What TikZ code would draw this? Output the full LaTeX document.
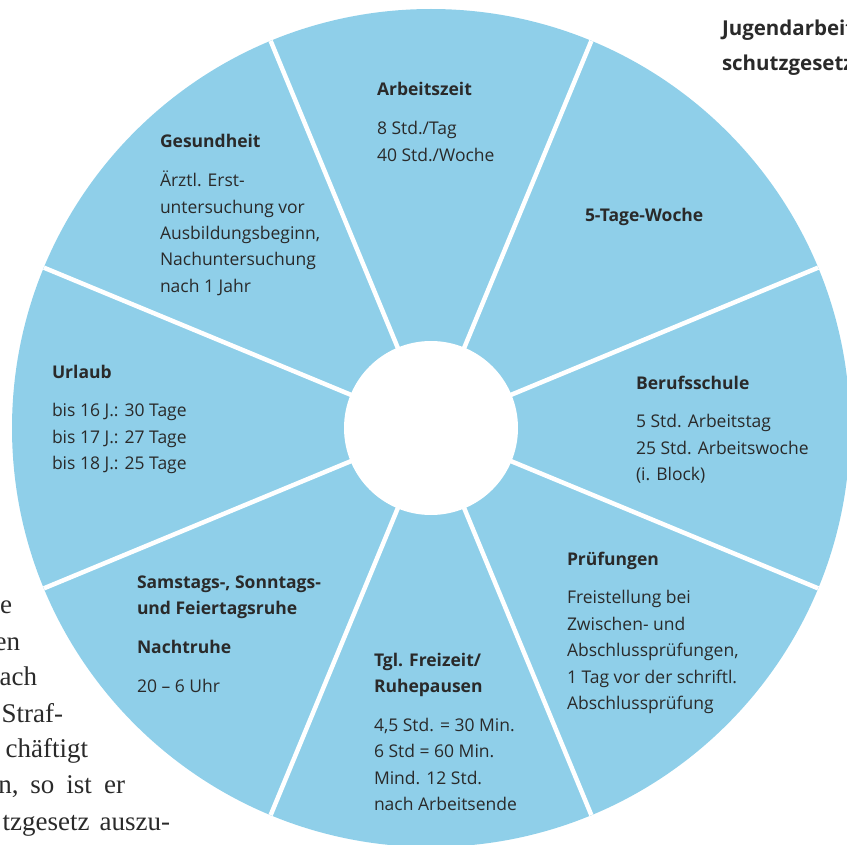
\documentclass[tikz,border=0pt]{standalone}
\usepackage{fontspec}
\setmainfont{Open Sans}
\newfontfamily\serifbody{Liberation Serif}
\definecolor{wheelblue}{HTML}{8FCFE9}
\definecolor{ink}{HTML}{2A2A2A}
\newcommand{\secthead}[1]{\hbox{\bfseries #1}}
\newcommand{\sectline}[1]{\hbox{#1}}
\newcommand{\sectgap}{\vskip 12.4pt}
\begin{document}
\begin{tikzpicture}[x=1pt,y=-1pt,
  lbl/.style={anchor=base west, inner sep=0pt, outer sep=0pt, text=ink, font=\fontsize{17.5}{26.4}\selectfont},
  titlelbl/.style={anchor=base west, inner sep=0pt, outer sep=0pt, text=ink, font=\fontsize{20.5}{35}\selectfont\bfseries},
  spoke/.style={draw=white, line width=4.5pt},
  side/.style={anchor=base east, inner sep=0pt, outer sep=0pt, text=ink, font=\serifbody\fontsize{27}{36}\selectfont}]
\useasboundingbox (0,0) rectangle (847,845);
\clip (0,0) rectangle (847,845);
\coordinate (c) at (431,428);
\fill[wheelblue] (c) circle[radius=419];
\foreach \a in {22.5,67.5,...,337.5}
  \draw[spoke] (c) -- ++(\a:419);
\fill[white] (c) circle[radius=87];

\node[lbl] (gesund) at (160,148) {\vtop{\baselineskip=26.4pt
  \secthead{Gesundheit}\sectgap
  \sectline{Ärztl. Erst-}\sectline{untersuchung vor}\sectline{Ausbildungsbeginn,}\sectline{Nachuntersuchung}\sectline{nach 1 Jahr}}};
\node[lbl] (arbeit) at (377,96) {\vtop{\baselineskip=26.4pt
  \secthead{Arbeitszeit}\sectgap
  \sectline{8 Std./Tag}\sectline{40 Std./Woche}}};
\node[lbl] (tage) at (585,222) {\vtop{\baselineskip=26.4pt
  \secthead{5-Tage-Woche}}};
\node[lbl] (beruf) at (636,389) {\vtop{\baselineskip=26.4pt
  \secthead{Berufsschule}\sectgap
  \sectline{5 Std. Arbeitstag}\sectline{25 Std. Arbeitswoche}\sectline{(i. Block)}}};
\node[lbl] (pruef) at (567,565) {\vtop{\baselineskip=26.4pt
  \secthead{Prüfungen}\sectgap
  \sectline{Freistellung bei}\sectline{Zwischen- und}\sectline{Abschlussprüfungen,}\sectline{1 Tag vor der schriftl.}\sectline{Abschlussprüfung}}};
\node[lbl] (frei) at (374,666) {\vtop{\baselineskip=26.4pt
  \secthead{Tgl. Freizeit/}\secthead{Ruhepausen}\sectgap
  \sectline{4,5 Std. = 30 Min.}\sectline{6 Std = 60 Min.}\sectline{Mind. 12 Std.}\sectline{nach Arbeitsende}}};
\node[lbl] (samst) at (137,588) {\vtop{\baselineskip=26.4pt
  \secthead{Samstags-, Sonntags-}\secthead{und Feiertagsruhe}\sectgap
  \secthead{Nachtruhe}\sectgap
  \sectline{20 – 6 Uhr}}};
\node[lbl] (urlaub) at (52,378) {\vtop{\baselineskip=26.4pt
  \secthead{Urlaub}\sectgap
  \sectline{bis 16 J.: 30 Tage}\sectline{bis 17 J.: 27 Tage}\sectline{bis 18 J.: 25 Tage}}};

\node[titlelbl] (jugend) at (722,36) {\vtop{\baselineskip=35pt
  \hbox{Jugendarbeit}\hbox{schutzgesetz}}};

\node[side] (s1) at (12,613) {e};
\node[side] (s2) at (20,650) {en};
\node[side] (s3) at (37,685) {ach};
\node[side] (s4) at (63,722) {Straf-};
\node[side] (s5) at (88,757) {chäftigt};
\node[side] (s6) at (125,793) {n,\hskip 12pt so\hskip 12pt ist\hskip 12pt er};
\node[side] (s7) at (170,830) {tzgesetz\hskip 10pt auszu-};
\end{tikzpicture}
\end{document}
